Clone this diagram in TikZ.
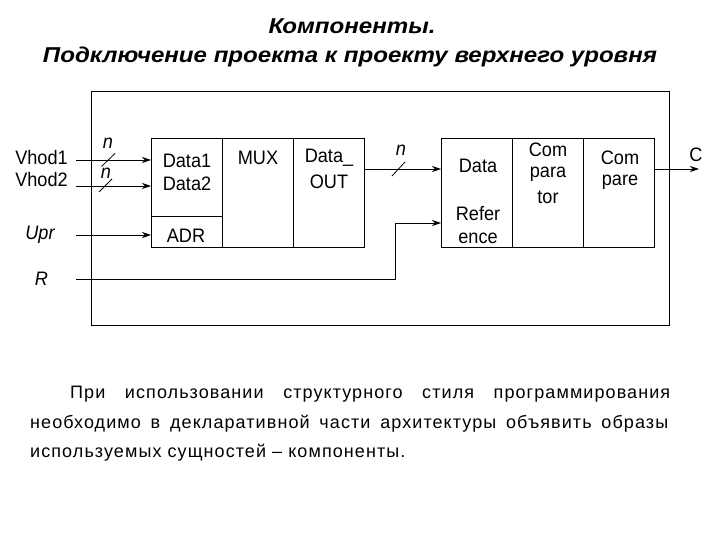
\documentclass[tikz,border=0pt]{standalone}
\usepackage{fontspec}
\setmainfont{Liberation Sans}
\newfontfamily\lblfont[FakeStretch=0.93]{Liberation Sans}
\newfontfamily\titlefont[FakeStretch=1.12]{Liberation Sans}
\newfontfamily\parafont[LetterSpace=6]{Liberation Sans}
\usetikzlibrary{arrows.meta}
\begin{document}
\begin{tikzpicture}[x=1pt,y=-1pt,
  lbl/.style={font=\fontsize{19.5}{21}\lblfont, inner sep=0pt},
  ilbl/.style={font=\fontsize{19.5}{21}\lblfont\itshape, inner sep=0pt},
  ttl/.style={font=\fontsize{21.5}{26}\titlefont\bfseries\itshape, inner sep=0pt, anchor=base},
  para/.style={font=\fontsize{18}{20}\parafont, inner sep=0pt, anchor=base west},
  blk/.style={draw, line width=1.1pt, anchor=north west, inner sep=0pt},
  arr/.style={line width=0.8pt, -{Stealth[length=9pt,width=6pt]}},
  tick/.style={line width=0.8pt}]
\useasboundingbox (0,0) rectangle (720,540);
% title
\node[ttl] (t1) at (352,34) {Компоненты.};
\node[ttl] (t2) at (350,63) {Подключение проекта к проекту верхнего уровня};
% outer frame
\node[draw, line width=0.9pt, anchor=north west, minimum width=578pt, minimum height=234pt, inner sep=0pt] (frame) at (91,91) {};
% left block
\node[blk, minimum width=213pt, minimum height=109pt] (mux) at (151,138) {};
\coordinate (d1) at (222,138); \coordinate (d2) at (293,138);
\draw[line width=0.8pt] (d1) -- (d1 |- mux.south);
\draw[line width=0.8pt] (d2) -- (d2 |- mux.south);
\coordinate (adrl) at (151,216);
\draw[line width=0.8pt] (adrl) -- (adrl -| d1);
\node[lbl] (data1) at (187,161) {Data1};
\node[lbl] (data2) at (187,184) {Data2};
\node[lbl] (muxt) at (258,158) {MUX};
\node[lbl] (dout1) at (329,158) {Data\_};
\node[lbl] (dout2) at (329,182) {OUT};
\node[lbl] (adr) at (186,236) {ADR};
% right block
\node[blk, minimum width=213pt, minimum height=109pt] (cmp) at (441,138) {};
\coordinate (e1) at (512,138); \coordinate (e2) at (583,138);
\draw[line width=0.8pt] (e1) -- (e1 |- cmp.south);
\draw[line width=0.8pt] (e2) -- (e2 |- cmp.south);
\node[lbl] (data) at (478,166) {Data};
\node[lbl] (ref1) at (478,214) {Refer};
\node[lbl] (ref2) at (478,238) {ence};
\node[lbl] (c1) at (548,150) {Com};
\node[lbl] (c2) at (548,174) {para};
\node[lbl] (c3) at (548,197) {tor};
\node[lbl] (cp1) at (620,158) {Com};
\node[lbl] (cp2) at (620,182) {pare};
% inputs
\node[lbl, anchor=base] (v1) at (41.5,165) {Vhod1};
\node[lbl, anchor=base] (v2) at (41.5,187) {Vhod2};
\node[ilbl, anchor=base] (upr) at (40,240) {Upr};
\node[ilbl, anchor=base] (r) at (41.5,285) {R};
\coordinate (v1s) at (76,160); \coordinate (v2s) at (76,186);
\coordinate (us) at (76,235); \coordinate (rs) at (76,279);
\draw[arr] (v1s) -- (v1s -| mux.west);
\draw[arr] (v2s) -- (v2s -| mux.west);
\draw[arr] (us) -- (us -| mux.west);
\coordinate (rk) at (395,279); \coordinate (rin) at (395,223);
\draw[arr] (rs) -- (rk) -- (rin) -- (rin -| cmp.west);
% slashes and n
\draw[tick] (101.5,166.5) -- (115,153.5);
\node[ilbl] (n1) at (108,143) {n};
\draw[tick] (99,192) -- (112,179);
\node[ilbl] (n2) at (106,173) {n};
% data out -> data
\coordinate (dos) at (364,169);
\draw[arr] (dos) -- (dos -| cmp.west);
\draw[tick] (392,176) -- (405,162);
\node[ilbl] (n3) at (401,150) {n};
% output C
\coordinate (cs) at (654,169); \coordinate (ce) at (699,169);
\draw[arr] (cs) -- (ce);
\node[lbl] (cout) at (696,155) {C};
% paragraph
\node[para] (p1) at (70,398) {\makebox[600pt][s]{При использовании структурного стиля программирования}};
\node[para] (p2) at (30,428) {\makebox[638pt][s]{необходимо в декларативной части архитектуры объявить образы}};
\node[para] (p3) at (30,457) {используемых сущностей – компоненты.};
\end{tikzpicture}
\end{document}
